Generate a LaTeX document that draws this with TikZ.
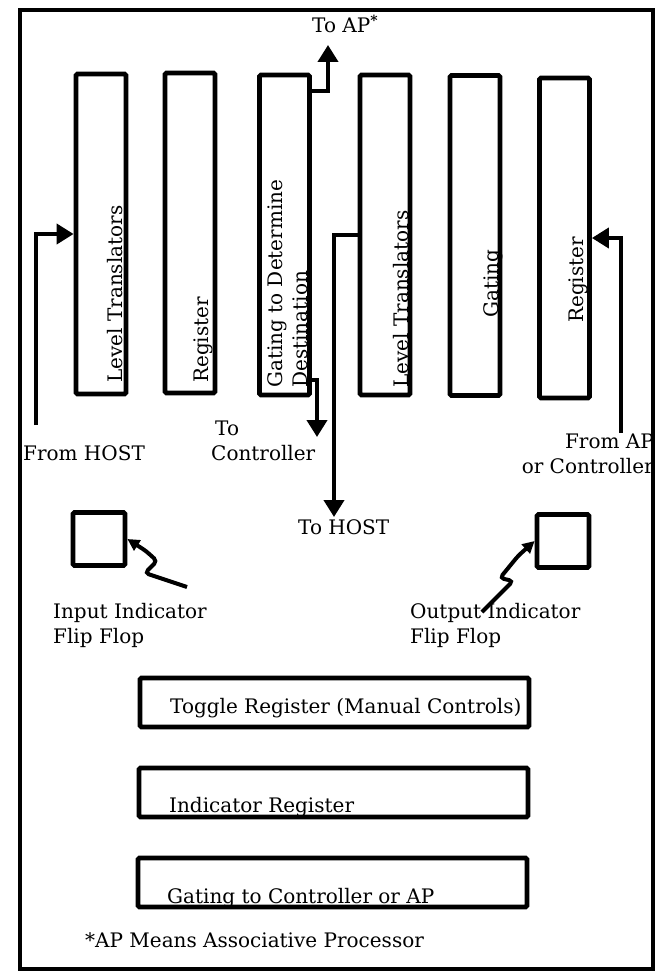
\documentclass[tikz,border=0pt]{standalone}
\usepackage{fontspec}
\setmainfont{DejaVu Serif}
\usetikzlibrary{arrows.meta, calc}

\begin{document}
\begin{tikzpicture}[x=1pt, y=-1pt,
  unit/.style={draw, line width=4.8pt, rounded corners=1.5pt, inner sep=0pt},
  col/.style={unit, minimum width=50pt, minimum height=320pt},
  ff/.style={unit, minimum width=52pt, minimum height=53pt},
  bar/.style={unit, minimum width=389pt, minimum height=49pt},
  txt/.style={inner sep=0pt, font=\fontsize{20}{25}\selectfont, align=left, anchor=base west},
  vtxt/.style={txt, rotate=90},
  flow/.style={line width=4pt, -{Triangle[length=17pt, width=20pt]}},
  squig/.style={line width=4pt, rounded corners=4pt, -{Triangle[length=12pt, width=12pt]}}]

  \useasboundingbox (0,0) rectangle (658,974);
  \draw[line width=4pt] (20,10) rectangle (653,969);

  % upper row of units
  \node[col] (lt1)   at (101,234)   {};
  \node[col] (reg1)  at (190,233)   {};
  \node[col] (gate1) at (284.5,235) {};
  \node[col] (lt2)   at (385,235)   {};
  \node[col] (gate2) at (475,235.5) {};
  \node[col] (reg2)  at (564.5,238) {};

  % (multi-line nodes sit on the baseline of their last line)
  \node[vtxt] (lt1txt)   at (122,383) {Level Translators};
  \node[vtxt] (reg1txt)  at (208,383) {Register};
  \node[vtxt] (gate1txt) at (307,388) {Gating to Determine\\Destination};
  \node[vtxt] (lt2txt)   at (408,388) {Level Translators};
  \node[vtxt] (gate2txt) at (498,318) {Gating};
  \node[vtxt] (reg2txt)  at (583,323) {Register};

  % flip flops
  \node[ff] (inff)  at (99,539)  {};
  \node[ff] (outff) at (563,541) {};

  % lower registers
  \node[bar] (toggle) at (334.5,702.5) {};
  \node[bar] (indreg) at (333.5,792.5) {};
  \node[bar] (gateout) at (332.5,882.5) {};

  % labels
  \node[txt] (fromhost) at (23,460)  {From HOST};
  \node[txt] (toap)     at (312,33)  {To AP\textsuperscript{\textbf{*}}};
  \node[txt] (toctl)    at (211,460) {\hspace{4pt}To\\Controller};
  \node[txt, anchor=base east, align=right] (fromap) at (654,473) {From AP\\or Controller};
  \node[txt] (tohost)   at (298,534) {To HOST};
  \node[txt] (inlbl)    at (53,643)  {Input Indicator\\Flip Flop};
  \node[txt] (outlbl)   at (410,643) {Output Indicator\\Flip Flop};
  \node[txt] (toggletxt)  at (170,713) {Toggle Register (Manual Controls)};
  \node[txt] (indregtxt)  at (169,812) {Indicator Register};
  \node[txt] (gateouttxt) at (167,903) {Gating to Controller or AP};
  \node[txt] (note)       at (85,947)  {*AP Means Associative Processor};

  % connectors
  \coordinate (hostsrc) at (36,425);
  \coordinate (apdst)   at (328,45);
  \coordinate (ctldst)  at (317,437);
  \coordinate (hostdst) at (334,517);
  \coordinate (apsrc)   at (621,433);
  \coordinate (inend)   at (187,587);
  \coordinate (outend)  at (482,612);

  \draw[flow] (hostsrc) |- (lt1.west);
  \draw[flow] ($(gate1.north east)+(0,18)$) -| (apdst);
  \draw[flow] ($(gate1.south east)+(0,-17)$) -| (ctldst);
  \draw[flow] (lt2.west) -| (hostdst);
  \draw[flow] (apsrc) |- (reg2.east);

  \draw[squig] (inend) -- (145,573) -- (157,561) -- (146,551) -- (inff.east);
  \draw[squig] (outend) -- (513,581) -- (500,578) -- (518,556) -- (outff.west);
\end{tikzpicture}
\end{document}
